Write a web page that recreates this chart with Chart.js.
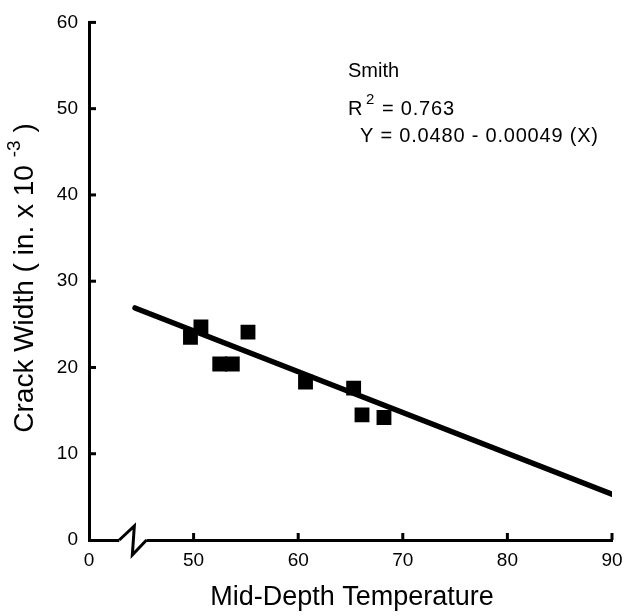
<!DOCTYPE html>
<html>
<head>
<meta charset="utf-8">
<script src="https://cdn.jsdelivr.net/npm/chart.js@4"></script>
<style>
  html, body { margin: 0; padding: 0; background: #fff; }
  #wrap { width: 627px; height: 616px; }
</style>
</head>
<body>
<div id="wrap"><canvas id="crackChart"></canvas></div>
<script>
// measured points (temperature vs crack width, in. x 10^-3)
const tempValues = [49.7, 50.7, 55.2, 52.5, 53.7, 60.7, 65.3, 66.1, 68.2];
const crackValues = [23.5, 24.7, 24.1, 20.4, 20.4, 18.3, 17.6, 14.5, 14.2];
// regression line as drawn
const fitX = [44.4, 90];
const fitY = [26.9, 5.3];
const xTicks = [40, 50, 60, 70, 80, 90];
const xTickLabels = ['0', '50', '60', '70', '80', '90'];
const yTicks = [0, 10, 20, 30, 40, 50, 60];

const FONT = '"Liberation Sans", Arial, Helvetica, sans-serif';

const decorPlugin = {
    id: 'decor',
    afterDraw(chart) {
        const ctx = chart.ctx;
        const xs = chart.scales.x, ys = chart.scales.y;
        const area = chart.chartArea;
        ctx.save();
        ctx.strokeStyle = '#000';
        ctx.lineWidth = 3;
        // inward tick marks
        yTicks.forEach(v => {
            if (v === 0) return;
            const py = ys.getPixelForValue(v);
            ctx.beginPath();
            ctx.moveTo(area.left, py);
            ctx.lineTo(area.left + 7, py);
            ctx.stroke();
        });
        xTicks.forEach(v => {
            if (v === 40) return;
            const px = xs.getPixelForValue(v);
            ctx.beginPath();
            ctx.moveTo(px, area.bottom);
            ctx.lineTo(px, area.bottom - 7);
            ctx.stroke();
        });
        // axis break
        const b = area.bottom;
        const x1 = xs.getPixelForValue(42.9), x2 = xs.getPixelForValue(45.5);
        ctx.fillStyle = '#fff';
        ctx.fillRect(x1, b - 4, x2 - x1, 8);
        ctx.lineJoin = 'miter';
        ctx.beginPath();
        ctx.moveTo(x1, b);
        ctx.lineTo(x1 + 15, b - 14);
        ctx.lineTo(x1 + 13, b + 15);
        ctx.lineTo(x2, b);
        ctx.stroke();

        // axis titles
        ctx.fillStyle = '#000';
        ctx.font = '27px ' + FONT;
        ctx.textAlign = 'center';
        ctx.textBaseline = 'alphabetic';
        ctx.fillText('Mid-Depth Temperature', 352, 605);

        ctx.save();
        ctx.translate(33, 278);
        ctx.rotate(-Math.PI / 2);
        const partA = 'Crack Width ( in. x 10 ';
        const partB = '-3';
        const partC = ' )';
        ctx.font = '28px ' + FONT;
        const wA = ctx.measureText(partA).width;
        const wC = ctx.measureText(partC).width;
        ctx.font = '19px ' + FONT;
        const wB = ctx.measureText(partB).width;
        let x = -(wA + wB + wC) / 2;
        ctx.textAlign = 'left';
        ctx.font = '28px ' + FONT;
        ctx.fillText(partA, x, 0);
        x += wA;
        ctx.font = '19px ' + FONT;
        ctx.fillText(partB, x, -13);
        x += wB;
        ctx.font = '28px ' + FONT;
        ctx.fillText(partC, x, 0);
        ctx.restore();

        // regression note
        ctx.textAlign = 'left';
        ctx.font = '20px ' + FONT;
        ctx.fillText('Smith', 348, 77);
        ctx.fillText('R', 348, 115);
        ctx.font = '15px ' + FONT;
        ctx.fillText('2', 366, 104);
        ctx.font = '20px ' + FONT;
        ctx.letterSpacing = '0.8px';
        ctx.fillText('= 0.763', 382, 115);
        ctx.fillText('Y = 0.0480 - 0.00049 (X)', 360, 142);
        ctx.letterSpacing = '0px';
        ctx.restore();
    }
};

const ctx = document.getElementById('crackChart');
new Chart(ctx, {
    type: 'scatter',
    data: {
        datasets: [{
            label: 'Smith',
            data: tempValues.map((t, i) => ({ x: t, y: crackValues[i] })),
            pointStyle: 'rect',
            pointRadius: 10.5,
            pointHoverRadius: 10.5,
            backgroundColor: '#000',
            borderWidth: 0
        }, {
            label: 'Fit',
            data: fitX.map((t, i) => ({ x: t, y: fitY[i] })),
            showLine: true,
            borderColor: '#000',
            borderWidth: 5.5,
            borderCapStyle: 'round',
            pointRadius: 0
        }]
    },
    options: {
        responsive: true,
        maintainAspectRatio: false,
        animation: false,
        layout: {
            padding: { left: 0, top: 16, right: 15, bottom: 0 }
        },
        plugins: {
            legend: { display: false },
            tooltip: { enabled: false }
        },
        scales: {
            x: {
                type: 'linear',
                min: 40,
                max: 90,
                afterFit: function(scale) {
                    scale.height = 76;
                    scale.paddingRight = 0;
                    scale.paddingLeft = 0;
                },
                afterBuildTicks: function(scale) {
                    scale.ticks = xTicks.map(v => ({ value: v }));
                },
                ticks: {
                    color: '#000',
                    padding: 9,
                    font: { family: FONT, size: 19 },
                    callback: function(value) {
                        const i = xTicks.indexOf(value);
                        return i >= 0 ? xTickLabels[i] : '';
                    }
                },
                grid: { display: false, drawTicks: false },
                border: { display: true, color: '#000', width: 3 }
            },
            y: {
                min: 0,
                max: 60,
                afterFit: function(scale) { scale.width = 89; },
                afterBuildTicks: function(scale) {
                    scale.ticks = yTicks.map(v => ({ value: v }));
                },
                ticks: {
                    color: '#000',
                    padding: 11,
                    font: { family: FONT, size: 19 }
                },
                grid: { display: false, drawTicks: false },
                border: { display: true, color: '#000', width: 3 }
            }
        }
    },
    plugins: [decorPlugin]
});
</script>
</body>
</html>
